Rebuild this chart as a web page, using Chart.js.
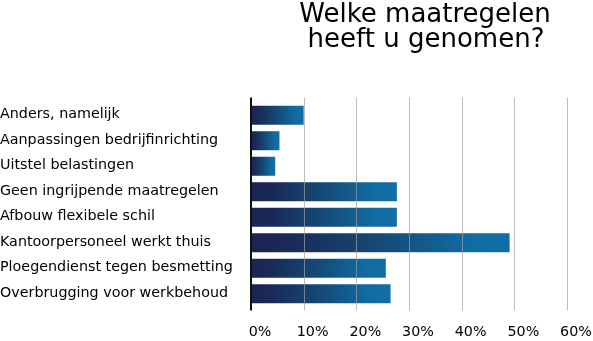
<!DOCTYPE html>
<html lang="nl">
<head>
  <meta charset="UTF-8">
  <title>Welke maatregelen heeft u genomen?</title>
  <script src="https://cdn.jsdelivr.net/npm/chart.js"></script>
  <style>
    html, body { margin: 0; padding: 0; background: #fff; }
    #wrap { width: 593px; height: 341px; position: relative; }
  </style>
</head>
<body>
  <div id="wrap"><canvas id="chart"></canvas></div>
  <script>
    const titleLines = ['Welke maatregelen', 'heeft u genomen?'];
    const categories = [
      'Anders, namelijk',
      'Aanpassingen bedrijfinrichting',
      'Uitstel belastingen',
      'Geen ingrijpende maatregelen',
      'Afbouw flexibele schil',
      'Kantoorpersoneel werkt thuis',
      'Ploegendienst tegen besmetting',
      'Overbrugging voor werkbehoud'
    ];
    const percentages = [10, 5.4, 4.6, 27.7, 27.7, 49.1, 25.6, 26.5];
    const xTicks = [0, 10, 20, 30, 40, 50, 60];

    // per-bar gradient: dark navy on the left, blue at the bar end
    function barGradient(ctx) {
      const chart = ctx.chart;
      const x = chart.scales && chart.scales.x;
      if (!chart.chartArea || !x) return '#1a3f6e';
      const x0 = x.getPixelForValue(0);
      const x1 = x.getPixelForValue(ctx.raw);
      const g = chart.ctx.createLinearGradient(x0, 0, x1, 0);
      g.addColorStop(0, '#1a2451');
      g.addColorStop(0.15, '#1a2a58');
      g.addColorStop(0.5, '#154a76');
      g.addColorStop(0.85, '#116ca2');
      g.addColorStop(1, '#116ea5');
      return g;
    }

    // grid + axis line reach a bit past the plot area, as in the original
    const gridPlugin = {
      id: 'longGrid',
      afterDatasetsDraw(chart) {
        const c = chart.ctx;
        const x = chart.scales.x;
        const top = chart.chartArea.top - 5;
        const bottom = chart.chartArea.bottom + 4;
        c.save();
        c.lineWidth = 1;
        c.strokeStyle = 'rgba(160,160,160,0.7)';
        xTicks.slice(1).forEach(v => {
          const px = Math.round(x.getPixelForValue(v)) + 0.5;
          c.beginPath();
          c.moveTo(px, top);
          c.lineTo(px, bottom);
          c.stroke();
        });
        c.strokeStyle = '#111';
        c.lineWidth = 2;
        const x0 = Math.round(x.getPixelForValue(0));
        c.beginPath();
        c.moveTo(x0, top);
        c.lineTo(x0, bottom);
        c.stroke();
        c.restore();
      },
      afterDraw(chart) {
        const c = chart.ctx;
        c.save();
        c.fillStyle = '#000';
        c.font = '26px "DejaVu Sans"';
        c.textAlign = 'center';
        c.textBaseline = 'alphabetic';
        c.fillText(titleLines[0], 425, 22);
        c.fillText(titleLines[1], 426, 47);
        c.restore();
      }
    };

    new Chart(document.getElementById('chart'), {
      type: 'bar',
      data: {
        labels: categories,
        datasets: [{
          data: percentages,
          backgroundColor: barGradient,
          borderWidth: 0,
          barPercentage: 0.745,
          categoryPercentage: 1
        }]
      },
      options: {
        indexAxis: 'y',
        responsive: true,
        maintainAspectRatio: false,
        animation: false,
        layout: { padding: { top: 102.5, right: 26, left: 0, bottom: 0 } },
        plugins: {
          legend: { display: false },
          title: { display: false },
          tooltip: { enabled: false }
        },
        scales: {
          x: {
            min: 0,
            max: 60,
            afterBuildTicks(scale) {
              scale.ticks = xTicks.map(v => ({ value: v }));
            },
            afterFit(scale) {
              scale.height = 34.5;
              scale.paddingLeft = 0;
              scale.paddingRight = 0;
            },
            grid: { display: false, drawTicks: false },
            border: { display: false },
            ticks: {
              color: '#000',
              font: { family: 'DejaVu Sans', size: 14.3 },
              padding: 17,
              labelOffset: 9,
              maxRotation: 0,
              callback: v => v + '%'
            }
          },
          y: {
            afterFit(scale) { scale.width = 251; },
            grid: { display: false, drawTicks: false },
            border: { display: false },
            ticks: {
              color: '#000',
              crossAlign: 'far',
              font: { family: 'DejaVu Sans', size: 14.3 },
              padding: 8,
              labelOffset: -0.5
            }
          }
        }
      },
      plugins: [gridPlugin]
    });
  </script>
</body>
</html>
